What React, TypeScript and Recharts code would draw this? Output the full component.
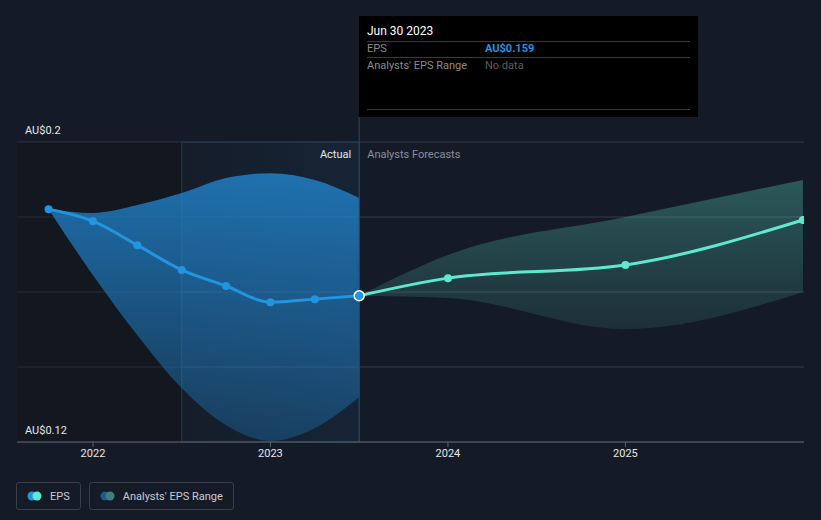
import React from "react";
import {
  ComposedChart,
  Line,
  Area,
  XAxis,
  YAxis,
  CartesianGrid,
  ReferenceArea,
  ReferenceLine,
} from "recharts";

const actualDates = [2021.75, 2022, 2022.25, 2022.5, 2022.75, 2023, 2023.25, 2023.5];
const actualEps = [0.1821, 0.1789, 0.1725, 0.1659, 0.1616, 0.1573, 0.1581, 0.159];
const actualLow = [0.1821, 0.1645, 0.1485, 0.1344, 0.1245, 0.1203, 0.1237, 0.132];
const actualHigh = [0.1821, 0.1811, 0.1832, 0.1864, 0.1904, 0.1917, 0.1899, 0.1851];

const forecastDates = [2023.5, 2024, 2025, 2026];
const forecastEps = [0.159, 0.1637, 0.1672, 0.1792];
const forecastLow = [0.159, 0.1584, 0.1501, 0.16];
const forecastHigh = [0.159, 0.1699, 0.18, 0.1899];

const yearTicks = [2022, 2023, 2024, 2025];
const epsTicks = [0.12, 0.14, 0.16, 0.18, 0.2];

const BG = "#151b26";
const BLUE = "#2394df";
const MINT = "#5ee8cf";
const GRID = "#353b46";

type Row = {
  date: number;
  eps?: number;
  actRange?: [number, number];
  fc?: number;
  fcRange?: [number, number];
};

const rowMap = new Map<number, Row>();
actualDates.forEach((d, i) => {
  rowMap.set(d, { date: d, eps: actualEps[i], actRange: [actualLow[i], actualHigh[i]] });
});
forecastDates.forEach((d, i) => {
  const r = rowMap.get(d) || { date: d };
  r.fc = forecastEps[i];
  r.fcRange = [forecastLow[i], forecastHigh[i]];
  rowMap.set(d, r);
});
const data = Array.from(rowMap.values()).sort((a, b) => a.date - b.date);

const ActualDot = (props: any) => {
  const { cx, cy, index } = props;
  if (cx == null || cy == null) return null;
  if (index === actualDates.length - 1) {
    return <circle key={index} cx={cx} cy={cy} r={5} fill={BLUE} stroke="#fff" strokeWidth={1.5} />;
  }
  return <circle key={index} cx={cx} cy={cy} r={4} fill={BLUE} />;
};

const ForecastDot = (props: any) => {
  const { cx, cy, index, payload } = props;
  if (cx == null || cy == null || payload.date === 2023.5) return null;
  return <circle key={index} cx={cx} cy={cy} r={4} fill={MINT} />;
};

const DividerLabel = (props: any) => {
  const { viewBox } = props;
  if (!viewBox) return null;
  const { x, y, height } = viewBox;
  return (
    <g>
      <line x1={x} x2={x} y1={y - 25} y2={y + height} stroke="#2a4866" strokeWidth={1} />
      <text x={x - 8} y={y + 16} textAnchor="end" fill="#e6e8eb" fontSize={11}>
        Actual
      </text>
      <text x={x + 8} y={y + 16} textAnchor="start" fill="#8a9099" fontSize={11}>
        Analysts Forecasts
      </text>
    </g>
  );
};

const YLabel = (text: string) => (props: any) => {
  const { viewBox } = props;
  if (!viewBox) return null;
  return (
    <text x={25} y={viewBox.y - 8} fill="#e6e8eb" fontSize={11}>
      {text}
    </text>
  );
};

export default function App() {
  return (
    <div
      style={{
        position: "fixed",
        left: 0,
        top: 0,
        width: 821,
        height: 520,
        background: BG,
        fontFamily: "Roboto, sans-serif",
      }}
    >
      <ComposedChart
        width={821}
        height={520}
        data={data}
        margin={{ top: 142, right: 17, bottom: 48, left: 17 }}
      >
        <defs>
          <linearGradient id="actBand" x1="0" y1="0" x2="0" y2="1">
            <stop offset="0%" stopColor="#2185cf" stopOpacity={0.8} />
            <stop offset="100%" stopColor="#2185cf" stopOpacity={0.3} />
          </linearGradient>
          <linearGradient id="fcBand" x1="0" y1="0" x2="0" y2="1">
            <stop offset="0%" stopColor={MINT} stopOpacity={0.3} />
            <stop offset="100%" stopColor={MINT} stopOpacity={0.1} />
          </linearGradient>
          <linearGradient id="hilite" x1="0" y1="0" x2="1" y2="0">
            <stop offset="0%" stopColor="#1a6fb0" stopOpacity={0.05} />
            <stop offset="100%" stopColor="#1a6fb0" stopOpacity={0.22} />
          </linearGradient>
        </defs>
        <ReferenceArea x1={2021.572} x2={2022.5} fill="#0d1016" fillOpacity={0.35} stroke="none" ifOverflow="visible" />
        <ReferenceArea x1={2022.5} x2={2023.5} fill="url(#hilite)" stroke="#1f3a55" strokeWidth={1} ifOverflow="visible" />
        <CartesianGrid horizontal vertical={false} stroke={GRID} />
        <XAxis
          dataKey="date"
          type="number"
          domain={[2021.572, 2026.006]}
          ticks={yearTicks}
          tickFormatter={(v) => String(v)}
          stroke="#5a606b"
          tickSize={5}
          tick={{ fill: "#e6e8eb", fontSize: 11 }}
          allowDataOverflow
        />
        <YAxis hide type="number" domain={[0.12, 0.2]} ticks={epsTicks} allowDataOverflow />
        <Area
          dataKey="actRange"
          type="monotone"
          stroke="none"
          fill="url(#actBand)"
          fillOpacity={1}
          isAnimationActive={false}
          activeDot={false}
        />
        <Area
          dataKey="fcRange"
          type="monotone"
          stroke="none"
          fill="url(#fcBand)"
          fillOpacity={1}
          isAnimationActive={false}
          activeDot={false}
        />
        <ReferenceLine y={0.2} stroke="none" label={YLabel("AU$0.2")} />
        <ReferenceLine y={0.12} stroke="none" label={YLabel("AU$0.12")} />
        <ReferenceLine x={2023.5} stroke="none" label={DividerLabel} />
        <Line
          dataKey="fc"
          type="monotone"
          stroke={MINT}
          strokeWidth={3}
          dot={ForecastDot}
          activeDot={false}
          isAnimationActive={false}
        />
        <Line
          dataKey="eps"
          type="monotone"
          stroke={BLUE}
          strokeWidth={3}
          dot={ActualDot}
          activeDot={false}
          isAnimationActive={false}
        />
      </ComposedChart>

      <div
        style={{
          position: "absolute",
          left: 359,
          top: 16,
          width: 339,
          height: 101,
          background: "#000",
          fontSize: 11,
        }}
      >
        <div style={{ position: "absolute", left: 8, top: 8, color: "#fff", fontSize: 12 }}>Jun 30 2023</div>
        <div style={{ position: "absolute", left: 8, right: 8, top: 25, borderTop: "1px solid #3a3a3a" }} />
        <div style={{ position: "absolute", left: 8, top: 26, color: "#8c8c8c" }}>EPS</div>
        <div style={{ position: "absolute", left: 126, top: 26, color: BLUE, fontWeight: 700 }}>AU$0.159</div>
        <div style={{ position: "absolute", left: 8, right: 8, top: 41, borderTop: "1px solid #3a3a3a" }} />
        <div style={{ position: "absolute", left: 8, top: 43, color: "#8c8c8c" }}>Analysts' EPS Range</div>
        <div style={{ position: "absolute", left: 126, top: 43, color: "#5e5e5e" }}>No data</div>
        <div style={{ position: "absolute", left: 8, right: 8, top: 93, borderTop: "1px solid #3a3a3a" }} />
      </div>

      <div style={{ position: "absolute", left: 16, top: 482, display: "flex", gap: 8 }}>
        {[
          { label: "EPS", c1: BLUE, c2: MINT },
          { label: "Analysts' EPS Range", c1: "#1e5a86", c2: "#3f7f7a" },
        ].map((it) => (
          <div
            key={it.label}
            style={{
              height: 26,
              border: "1px solid #3a404b",
              borderRadius: 3,
              display: "flex",
              alignItems: "center",
              padding: "0 10px 0 10px",
              color: "#c7ccd3",
              fontSize: 11,
            }}
          >
            <svg width={16} height={10} style={{ marginRight: 7 }}>
              <circle cx={5} cy={5} r={4.5} fill={it.c1} />
              <circle cx={10} cy={5} r={4.5} fill={it.c2} />
            </svg>
            {it.label}
          </div>
        ))}
      </div>
    </div>
  );
}
